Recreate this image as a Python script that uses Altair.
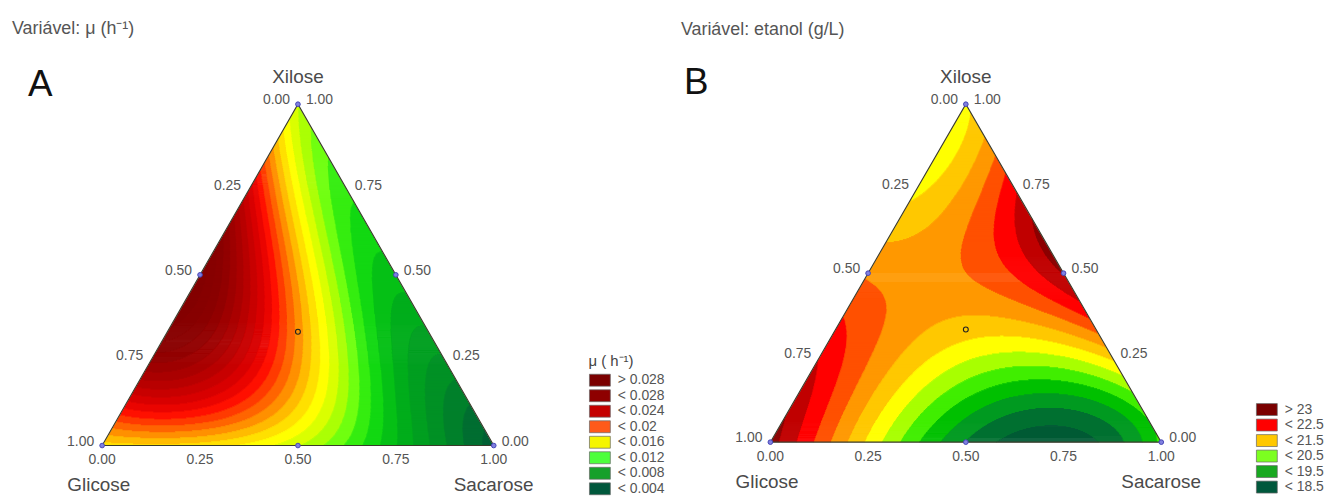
import numpy as np
import pandas as pd
import altair as alt

FONT = "Liberation Sans"
H3 = np.sqrt(3) / 2

# ---------------- data ----------------
# simplex-centroid design points drawn on the maps (Glicose, Xilose, Sacarose)
DES_G = [1.0, 0.0, 0.0, 0.5, 0.5, 0.0, 1 / 3]
DES_X = [0.0, 1.0, 0.0, 0.5, 0.0, 0.5, 1 / 3]
DES_S = [0.0, 0.0, 1.0, 0.0, 0.5, 0.5, 1 / 3]

READ_G = [1.0, 0.75, 0.5, 0.25, 0.0, 0.75, 0.5, 0.25, 0.0, 0.5, 0.25, 0.0, 0.25, 0.0, 0.0,
          1 / 3, 0.6, 0.4, 0.2, 0.1, 0.8, 0.45, 0.6, 0.3, 0.5, 1 / 6, 0.0, 0.15]
READ_X = [0.0, 0.0, 0.0, 0.0, 0.0, 0.25, 0.25, 0.25, 0.25, 0.5, 0.5, 0.5, 0.75, 0.75, 1.0,
          1 / 3, 0.2, 0.4, 0.2, 0.1, 0.1, 0.1, 0.1, 0.1, 1 / 3, 1 / 3, 1 / 3, 0.75]
READ_S = [0.0, 0.25, 0.5, 0.75, 1.0, 0.0, 0.25, 0.5, 0.75, 0.0, 0.25, 0.5, 0.0, 0.25, 0.0,
          1 / 3, 0.2, 0.2, 0.6, 0.8, 0.1, 0.45, 0.3, 0.6, 1 / 6, 0.5, 2 / 3, 0.1]
# values read at those compositions (estimated from the colour bands)
READ_MU = [0.0155, 0.0152, 0.0138, 0.0078, 0.0025, 0.027, 0.0215, 0.0118, 0.0058, 0.0305,
           0.0165, 0.0082, 0.023, 0.0105, 0.013, 0.0175, 0.025, 0.023, 0.0100, 0.0052,
           0.021, 0.0148, 0.0185, 0.0112, 0.0255, 0.0108, 0.0066, 0.0155]
READ_ETANOL = [23.7, 20.9, 18.5, 17.8, 19.7, 22.9, 21.0, 20.6, 21.4, 22.0, 21.8, 23.6, 20.8,
               22.9, 20.9, 21.3, 21.7, 21.8, 20.0, 18.4, 22.5, 19.0, 20.3, 18.5, 21.7, 21.0,
               21.9, 21.6]

TICKS = [0.0, 0.25, 0.5, 0.75, 1.0]
TICK_LABELS = ["0.00", "0.25", "0.50", "0.75", "1.00"]
VERTEX_NAMES = ["Glicose", "Xilose", "Sacarose"]

TITLE_A = "Variável: μ (h⁻¹)"
TITLE_B = "Variável: etanol (g/L)"
LETTERS = ["A", "B"]

LEG_TITLE_A = "μ ( h⁻¹)"
LEG_A_LABELS = ["> 0.028", "< 0.028", "< 0.024", "< 0.02", "< 0.016", "< 0.012", "< 0.008", "< 0.004"]
LEG_A_COLORS = ["#7b0000", "#8e0000", "#c40000", "#ff5a1a", "#f5f500", "#4cff3c", "#16a02a", "#00583c"]
LEG_B_LABELS = ["> 23", "< 22.5", "< 21.5", "< 20.5", "< 19.5", "< 18.5"]
LEG_B_COLORS = ["#7a0000", "#ff0000", "#ffc800", "#7cff20", "#18a820", "#00583c"]

# contour levels and colours of the bands
A_LEVELS = [round(0.001 * i, 3) for i in range(1, 35)]
A_ANCHOR_V = [0.0, 0.003, 0.005, 0.008, 0.010, 0.0115, 0.013, 0.0145, 0.016, 0.0175,
              0.019, 0.0205, 0.022, 0.025, 0.028, 0.034]
A_ANCHOR_C = ["#004f38", "#006434", "#008a28", "#00b418", "#18e410", "#70ff10", "#c8ff00",
              "#ffff00", "#ffd000", "#ff9000", "#ff5000", "#ff1000", "#e00000", "#b00000",
              "#8c0000", "#780000"]
B_LEVELS = [18.0, 18.5, 19.0, 19.5, 20.0, 20.5, 21.0, 21.5, 22.0, 22.5, 23.0, 23.5]
B_BAND_COLORS = ["#005a34", "#007030", "#009a20", "#00c000", "#40ee00", "#a8ff00", "#ffff00",
                 "#ffc800", "#ff9800", "#ff5000", "#ff0000", "#c00000", "#8b0000"]


# ---------------- helpers ----------------
def hex2rgb(h):
    return [int(h[i:i + 2], 16) for i in (1, 3, 5)]


def band_colors_from_anchors(levels, av, ac):
    step = levels[1] - levels[0]
    mids = ([levels[0] - step / 2] + [(levels[i] + levels[i + 1]) / 2 for i in range(len(levels) - 1)]
            + [levels[-1] + step / 2])
    rgb = np.array([hex2rgb(c) for c in ac], float)
    out = []
    for m in mids:
        r = [int(round(np.interp(m, av, rgb[:, j]))) for j in range(3)]
        out.append("#%02x%02x%02x" % tuple(r))
    return out


TERMS = [(a, b) for a in range(5) for b in range(5 - a)]


def fit_surface(X, S, v):
    X, S, v = np.asarray(X, float), np.asarray(S, float), np.asarray(v, float)
    M = np.column_stack([X ** a * S ** b for a, b in TERMS])
    coef = np.linalg.lstsq(M, v, rcond=None)[0]
    return lambda X_, S_: sum(c * X_ ** a * S_ ** b for c, (a, b) in zip(coef, TERMS))


def tern(G, X, S):
    G, X, S = np.asarray(G, float), np.asarray(X, float), np.asarray(S, float)
    return S + X / 2, X * H3


def surface(readings, levels, colors, pxu, pyu):
    f = fit_surface(READ_X, READ_S, readings)
    r3 = np.sqrt(3)
    dy = 1.0 / pyu
    n = int(np.ceil(H3 / dy))
    ovy = 0.7 / pyu
    ovx = 0.7 / pxu
    rows = []
    for i in range(n):  # bottom to top, each row overlapping the one below
        y0 = i * dy
        y1 = min((i + 1) * dy, H3)
        yc = 0.5 * (y0 + y1)
        xl, xr = y1 / r3, 1 - y1 / r3
        if xr - xl < 0.5 / pxu:
            xl, xr = yc / r3, 1 - yc / r3
        if xr <= xl:
            continue
        npt = max(int((xr - xl) * pxu * 2), 2) + 1
        xs = np.linspace(xl, xr, npt)
        X = 2 * yc / r3
        S = np.clip(xs - X / 2, 0, 1)
        v = f(X, S)
        k = np.searchsorted(levels, v, side="right")
        ch = np.nonzero(np.diff(k))[0]
        bounds = np.concatenate([[xl], 0.5 * (xs[ch] + xs[ch + 1]), [xr]])
        ks = np.concatenate([[k[0]], k[ch + 1]])
        for j in range(len(ks)):
            x2 = bounds[j + 1] + (ovx if j < len(ks) - 1 else 0)
            rows.append((round(bounds[j], 5), round(x2, 5),
                         round(y0 - (ovy if i > 0 else 0), 5), round(y1, 5), colors[ks[j]]))
    return pd.DataFrame(rows, columns=["x", "x2", "y", "y2", "fill"])


def panel(readings, levels, colors, leg_labels, leg_colors, leg_title, title, letter, g):
    pxu = g["wpx"]
    pyu = g["hpx"] / H3
    x0 = g["vx"] - g["ox"]
    y0 = g["vy"] - g["oy"]
    W, Hh = g["W"], g["H"]
    xs = alt.Scale(domain=[-x0 / pxu, (W - x0) / pxu], nice=False, zero=False)
    ys = alt.Scale(domain=[-(Hh - y0) / pyu, y0 / pyu], nice=False, zero=False)
    X = lambda f="x": alt.X(f"{f}:Q", scale=xs, axis=None)
    Y = lambda f="y": alt.Y(f"{f}:Q", scale=ys, axis=None)

    cx, cy = tern(DES_G[6], DES_X[6], DES_S[6])
    leg_df = pd.DataFrame({"lab": leg_labels, "x": float(cx), "y": float(cy)})
    legend = alt.Legend(
        orient="none", legendX=g["legx"], legendY=g["legy"],
        symbolType="M-1,-1H2.5V1H-1Z", symbolSize=144,
        symbolStrokeColor="#666666", symbolStrokeWidth=0.7,
        labelFont=FONT, labelFontSize=14, labelColor="#555555", labelOffset=15.5,
        rowPadding=-0.4, padding=0, labelLimit=200,
        titleFont=FONT, titleFontSize=15, titleFontWeight="normal", titleColor="#444444",
        titlePadding=4,
        **({"title": leg_title} if leg_title else {"title": None}),
    )
    leg_layer = alt.Chart(leg_df).mark_square(size=4, opacity=1).encode(
        x=X(), y=Y(),
        color=alt.Color("lab:N", scale=alt.Scale(domain=leg_labels, range=leg_colors), legend=legend),
    )

    surf = surface(readings, levels, colors, pxu, pyu)
    surf_layer = alt.Chart(surf).mark_rect(strokeWidth=0).encode(
        x=X("x"), x2="x2:Q", y=Y("y"), y2="y2:Q", fill=alt.Fill("fill:N", scale=None)
    )

    ox_, oy_ = tern([1, 0, 0, 1], [0, 1, 0, 0], [0, 0, 1, 0])
    outline = alt.Chart(pd.DataFrame({"x": ox_, "y": oy_, "o": [0, 1, 2, 3]})).mark_line(
        color="#3a3a2a", strokeWidth=1.1
    ).encode(x=X(), y=Y(), order="o:O")

    px_, py_ = tern(DES_G, DES_X, DES_S)
    des = pd.DataFrame({"x": px_, "y": py_, "c": [0, 0, 0, 0, 0, 0, 1]})
    blue = alt.Chart(des[des.c == 0]).mark_point(
        shape="circle", filled=True, size=22, fill="#8080e0", stroke="#4545b5", strokeWidth=1, opacity=1
    ).encode(x=X(), y=Y())
    cen = alt.Chart(des[des.c == 1]).mark_point(
        shape="circle", filled=False, size=24, color="#222222", strokeWidth=1.1, opacity=1
    ).encode(x=X(), y=Y())

    tk = np.array(TICKS)
    bx, by = tern(1 - tk, 0 * tk, tk)
    lx, ly = tern(tk, 1 - tk, 0 * tk)
    rx, ry = tern(0 * tk, tk, 1 - tk)
    tstyle = dict(font=FONT, fontSize=14, color="#555555", baseline="middle")
    bottom = alt.Chart(pd.DataFrame({"x": bx, "y": by, "t": TICK_LABELS})).mark_text(
        align="center", dy=15, **tstyle).encode(x=X(), y=Y(), text="t:N")
    left = alt.Chart(pd.DataFrame({"x": lx, "y": ly, "t": TICK_LABELS})).mark_text(
        align="right", dx=-8, dy=-4, **tstyle).encode(x=X(), y=Y(), text="t:N")
    right = alt.Chart(pd.DataFrame({"x": rx, "y": ry, "t": TICK_LABELS})).mark_text(
        align="left", dx=8, dy=-4, **tstyle).encode(x=X(), y=Y(), text="t:N")

    vstyle = dict(font=FONT, fontSize=19, color="#4a4a4a", baseline="middle")
    vgx, vgy = tern([1], [0], [0])
    vxx, vxy = tern([0], [1], [0])
    vsx, vsy = tern([0], [0], [1])
    v_g = alt.Chart(pd.DataFrame({"x": vgx, "y": vgy, "t": [VERTEX_NAMES[0]]})).mark_text(
        align="left", dx=-35, dy=40, **vstyle).encode(x=X(), y=Y(), text="t:N")
    v_x = alt.Chart(pd.DataFrame({"x": vxx, "y": vxy, "t": [VERTEX_NAMES[1]]})).mark_text(
        align="center", dy=-27, **vstyle).encode(x=X(), y=Y(), text="t:N")
    v_s = alt.Chart(pd.DataFrame({"x": vsx, "y": vsy, "t": [VERTEX_NAMES[2]]})).mark_text(
        align="right", dx=40, dy=40, **vstyle).encode(x=X(), y=Y(), text="t:N")

    ttl = alt.Chart(pd.DataFrame({"t": [title]})).mark_text(
        align="left", baseline="alphabetic", font=FONT, fontSize=18, color="#555555"
    ).encode(x=alt.value(g["tx"]), y=alt.value(g["ty"]), text="t:N")
    let = alt.Chart(pd.DataFrame({"t": [letter]})).mark_text(
        align="left", baseline="alphabetic", font=FONT, fontSize=37, color="#111111"
    ).encode(x=alt.value(g["lx"]), y=alt.value(g["ly"]), text="t:N")

    return alt.layer(
        leg_layer, surf_layer, outline, blue, cen, bottom, left, right, v_g, v_x, v_s, ttl, let
    ).resolve_scale(fill="independent").properties(width=W, height=Hh)


GEOM_A = dict(ox=8, oy=8, W=672, H=490, vx=102.7, vy=446.7, wpx=394.0, hpx=343.4,
              legx=584, legy=347, tx=4, ty=25, lx=20, ly=87)
GEOM_B = dict(ox=680, oy=8, W=644, H=490, vx=775.0, vy=443.3, wpx=393.3, hpx=340.0,
              legx=583, legy=395.5, tx=5, ty=25.5, lx=8, ly=85)

A_COLORS = band_colors_from_anchors(A_LEVELS, A_ANCHOR_V, A_ANCHOR_C)

pA = panel(READ_MU, A_LEVELS, A_COLORS, LEG_A_LABELS, LEG_A_COLORS, LEG_TITLE_A,
           TITLE_A, LETTERS[0], GEOM_A)
pB = panel(READ_ETANOL, B_LEVELS, B_BAND_COLORS, LEG_B_LABELS, LEG_B_COLORS, None,
           TITLE_B, LETTERS[1], GEOM_B)

chart = (
    alt.hconcat(pA, pB, spacing=0)
    .resolve_scale(color="independent", x="independent", y="independent")
    .resolve_legend(color="independent")
    .configure_view(stroke=None)
    .properties(padding=0)
)

chart.save("out.html", embed_options={"renderer": "svg", "actions": False})
